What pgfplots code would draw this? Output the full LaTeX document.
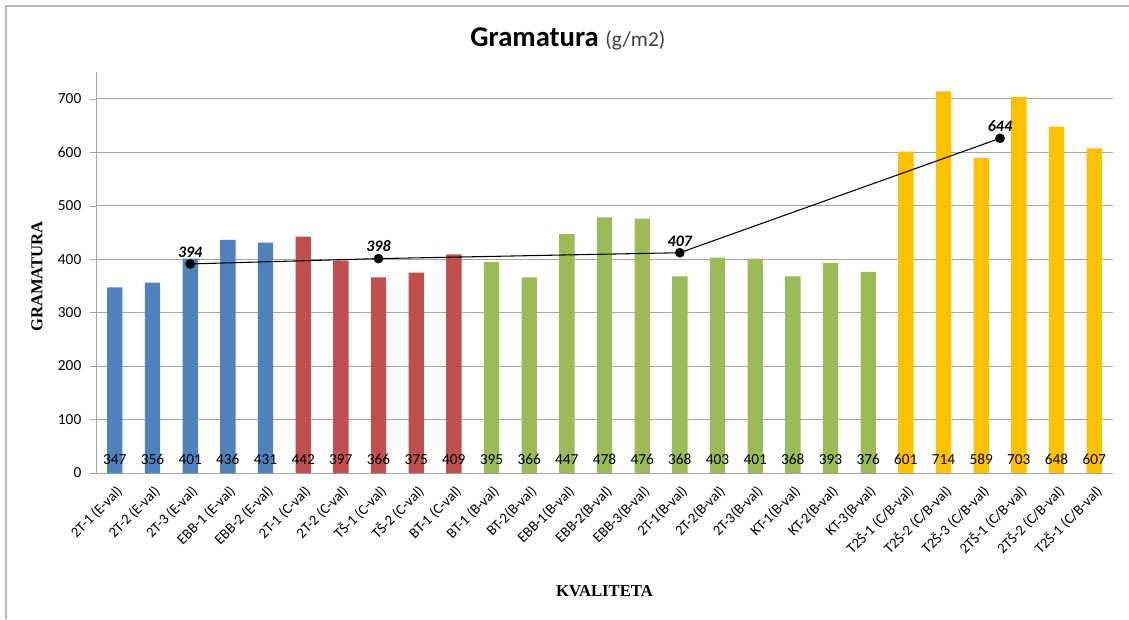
\documentclass[border=0pt]{standalone}
\usepackage{pgfplots}
\pgfplotsset{compat=1.18}
\usepackage{fontspec}
\setmainfont{Carlito}
\newfontfamily\timesfont{Liberation Serif}

\definecolor{cblue}{HTML}{4F81BD}
\definecolor{cred}{HTML}{C0504D}
\definecolor{cgreen}{HTML}{9BBB59}
\definecolor{cyellow}{HTML}{FFC000}
\definecolor{gridgray}{HTML}{A6A6A6}

\pgfplotsset{
  barstyle/.style={
    ybar, bar shift=0pt, draw=none, fill=#1,
    nodes near coords,
    visualization depends on={rawy \as \rawy},
    nodes near coords style={font=\fontsize{11.5}{13}\selectfont, text=black,
      shift={(axis direction cs:0,-\rawy)}, anchor=base, yshift=6.5pt},
  },
}

\begin{document}
\begin{tikzpicture}
\useasboundingbox (0,0) rectangle (846.75pt,464.25pt);
\draw[black!28, line width=1.5pt] (4.5pt,0) -- (4.5pt,459.75pt) -- (846.75pt,459.75pt);
\begin{axis}[
  at={(72pt,109.5pt)}, anchor=south west,
  scale only axis,
  width=762.75pt, height=300.75pt,
  xmin=-0.5, xmax=26.5,
  ymin=0, ymax=750,
  bar width=11.5pt,
  axis lines*=left,
  axis line style={gridgray},
  x axis line style={shorten <=-4.5pt},
  ymajorgrids,
  grid style={gridgray, line width=0.6pt},
  ytick={0,100,...,700},
  tick align=outside,
  major tick length=4.5pt,
  ytick style={gridgray},
  xtick style={draw=none},
  xtick={0,...,26},
  xticklabels={2T-1 (E-val), 2T-2 (E-val), 2T-3 (E-val), EBB-1 (E-val), EBB-2 (E-val),
    2T-1 (C-val), 2T-2 (C-val), TŠ-1 (C-val), TŠ-2 (C-val), BT-1 (C-val),
    BT-1 (B-val), BT-2(B-val), EBB-1(B-val), EBB-2(B-val), EBB-3(B-val),
    2T-1(B-val), 2T-2(B-val), 2T-3(B-val), KT-1(B-val), KT-2(B-val), KT-3(B-val),
    T2Š-1 (C/B-val), T2Š-2 (C/B-val), T2Š-3 (C/B-val), 2TŠ-1 (C/B-val), 2TŠ-2 (C/B-val), T2Š-1 (C/B-val)},
  xticklabel style={rotate=45, anchor=east, font=\fontsize{11}{13}\selectfont, xshift=1pt, yshift=-8pt},
  yticklabel style={font=\fontsize{11.5}{13}\selectfont, xshift=-3pt},
  /pgf/number format/assume math mode=true,
  ylabel={\timesfont\bfseries GRAMATURA},
  ylabel style={font=\fontsize{12.5}{14}\selectfont, at={(axis description cs:-0.058,0.49)}, anchor=center},
  xlabel={\timesfont\bfseries KVALITETA},
  xlabel style={font=\fontsize{12.5}{14}\selectfont, at={(axis description cs:0.5,-0.294)}, anchor=center},
  title={{\fontsize{21.5}{24}\selectfont\bfseries Gramatura}\hspace{5pt}{\fontsize{16}{19}\selectfont\color{black!75}(g/m2)}},
  title style={at={(axis description cs:0.464,1.062)}, anchor=center},
  clip=false,
]
\addplot[barstyle=cblue] coordinates {(0,347) (1,356) (2,401) (3,436) (4,431)};
\addplot[barstyle=cred] coordinates {(5,442) (6,397) (7,366) (8,375) (9,409)};
\addplot[barstyle=cgreen] coordinates {(10,395) (11,366) (12,447) (13,478) (14,476)
  (15,368) (16,403) (17,401) (18,368) (19,393) (20,376)};
\addplot[barstyle=cyellow] coordinates {(21,601) (22,714) (23,589) (24,703) (25,648) (26,607)};
\addplot[black, line width=0.8pt, mark=*, mark size=3.2pt,
  nodes near coords, point meta=explicit symbolic,
  nodes near coords style={font=\fontsize{12}{14}\selectfont\bfseries\itshape, anchor=base, yshift=5pt}]
  coordinates {(2,391) [394] (7,401) [398] (15,412) [407] (23.5,626) [644]};
\end{axis}
\end{tikzpicture}
\end{document}
